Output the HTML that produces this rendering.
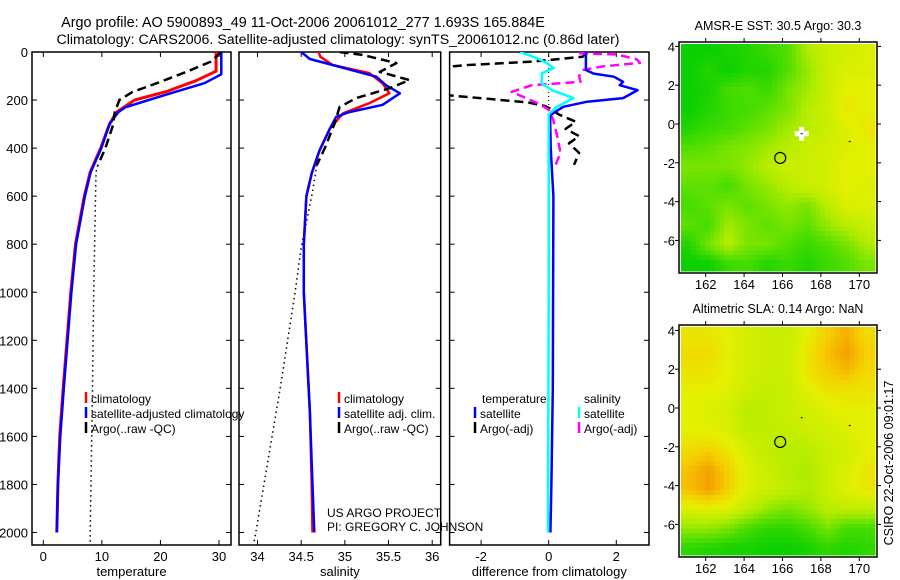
<!DOCTYPE html>
<html><head><meta charset="utf-8"><style>
body{margin:0;background:#fff;}
svg{display:block;font-family:"Liberation Sans",Arial,sans-serif;}
text{fill:#000;}
</style></head><body>
<svg id="fig" width="900" height="580" viewBox="0 0 900 580" xmlns="http://www.w3.org/2000/svg">
<rect width="900" height="580" fill="#fff"/>
<text x="303" y="27" font-size="14.4" text-anchor="middle">Argo profile: AO 5900893_49 11-Oct-2006 20061012_277 1.693S 165.884E</text>
<text x="338" y="44" font-size="14.2" text-anchor="middle">Climatology: CARS2006. Satellite-adjusted climatology: synTS_20061012.nc (0.86d later)</text>
<g id="maps"></g>
<g id="panels"></g>
</svg>
<script>
// ---------- data ----------
const depthTicks=[0,200,400,600,800,1000,1200,1400,1600,1800,2000];
const tempTicks=[0,10,20,30];
const salTicks=[34,34.5,35,35.5,36];
const salTickLabels=["34","34.5","35","35.5","36"];
const diffTicks=[-2,0,2];

const tClimDepth=[0,80,120,165,200,250,300,400,500,600,800,1000,1400,1600,1800,2000];
const tClimVal=[29.5,29.5,26.0,21.0,15.6,12.5,11.3,9.8,8.0,7.0,5.5,4.7,3.4,2.8,2.5,2.3];
const tSatDepth=[0,93,130,170,200,230,250,300,400,500,600,800,1000,1400,1600,1800,2000];
const tSatVal=[30.4,30.4,27.5,22.0,18.0,14.0,12.8,11.3,9.9,8.1,7.1,5.6,4.8,3.5,2.9,2.5,2.3];
const tArgoDepth=[0,40,82,124,167,200,250,312,400,472];
const tArgoVal=[30.4,28.6,24.5,20.0,15.2,13.0,12.2,11.8,10.6,9.3];
const tArgoExtDepth=[472,500,1000,1400,2000,2058];
const tArgoExtVal=[9.3,9.0,8.6,8.4,8.0,8.0];

const sClimDepth=[0,20,54,88,130,172,213,255,318,410,505,600,800,1000,1500,1800,2000];
const sClimVal=[34.70,34.72,34.86,35.28,35.43,35.51,35.28,34.98,34.83,34.71,34.62,34.56,34.53,34.53,34.60,34.62,34.63];
const sSatDepth=[0,29,54,103,138,172,220,250,270,318,410,505,600,800,1000,1500,1800,2000];
const sSatVal=[34.50,34.60,34.86,35.36,35.47,35.63,35.43,35.05,34.90,34.83,34.71,34.62,34.56,34.53,34.53,34.60,34.63,34.65];
const sArgoDepth=[0,12,46,83,117,151,192,229,300,400,470];
const sArgoVal=[34.94,35.20,35.59,35.40,35.74,35.51,35.13,34.94,34.88,34.77,34.68];
const sArgoExtDepth=[470,600,813,1000,1400,2000,2040];
const sArgoExtVal=[34.68,34.62,34.50,34.43,34.26,33.98,33.96];

const dTSatDepth=[0,75,90,103,124,138,159,192,207,228,263,400,600,1000,1400,1800,2000];
const dTSatVal=[1.1,1.1,1.33,1.93,2.2,2.1,2.63,2.2,1.14,0.43,0.04,0.06,0.14,0.13,0.12,0.08,0.05];
const dTArgoDepth=[5,20,40,55,70,170,180,195,210,225,240,260,290,320,350,380,420,470];
const dTArgoVal=[1.1,1.0,-0.5,-2.5,-3.5,-3.5,-3.0,-1.8,-0.6,-0.1,0.1,0.3,0.8,0.5,0.9,0.6,0.9,0.75];
const dSSatDepth=[0,26,46,67,88,130,159,192,228,260,400,1000,2000];
const dSSatVal=[-0.85,-0.35,-0.05,0.15,-0.2,-0.21,0.1,0.73,0.24,0.0,0.0,0.0,-0.02];
const dSArgoDepth=[5,10,30,45,60,75,100,124,138,166,190,215,240,280,350,420,470];
const dSArgoVal=[0.9,2.0,2.6,2.7,1.6,1.0,0.9,0.94,-0.5,-1.1,-0.7,-0.3,0.0,0.13,0.25,0.35,0.2];

const lonTicks=[162,164,166,168,170];
const latTicks=[4,2,0,-2,-4,-6];
const sstGrid=[
[0.05,0.05,0.1,0.15,0.25,0.35,0.7,0.85,0.9,0.95],
[0.05,0.15,0.05,0.15,0.15,0.35,0.6,0.85,0.95,0.95],
[0.05,0.1,0.3,0.35,0.25,0.5,0.65,0.85,1.0,1.0],
[0.05,0.15,0.25,0.3,0.4,0.5,0.75,0.85,1.05,1.0],
[0.15,0.25,0.3,0.4,0.5,0.65,0.75,0.85,0.95,1.05],
[0.35,0.4,0.5,0.55,0.65,0.75,0.85,0.9,0.95,1.0],
[0.5,0.5,0.5,0.6,0.75,0.85,0.85,0.9,1.0,1.0],
[0.4,0.4,0.3,0.5,0.6,0.75,0.85,0.9,1.0,0.95],
[0.3,0.4,0.5,0.4,0.5,0.6,0.5,0.75,0.95,0.95],
[0.4,0.3,0.65,0.5,0.4,0.5,0.4,0.6,0.75,0.85],
[0.15,0.5,0.75,0.5,0.5,0.35,0.25,0.35,0.5,0.7],
[0.05,0.05,0.25,0.3,0.15,0.25,0.15,0.25,0.35,0.5]];
const slaGrid=[
[1.05,1.05,1.0,0.9,0.85,0.85,1.0,1.15,1.25,1.1],
[1.1,1.1,1.0,0.9,0.85,0.85,1.05,1.2,1.3,1.15],
[1.05,1.05,1.0,0.9,0.85,0.85,1.05,1.15,1.2,1.1],
[1.0,1.0,0.95,0.85,0.8,0.85,0.95,1.05,1.05,1.05],
[1.0,0.95,0.9,0.75,0.8,0.85,0.9,0.95,1.0,1.0],
[1.0,1.0,0.95,0.8,0.8,0.8,0.85,0.9,0.95,1.0],
[1.1,1.15,1.05,0.9,0.8,0.75,0.75,0.85,0.9,1.0],
[1.2,1.3,1.15,0.95,0.85,0.75,0.7,0.85,0.95,1.05],
[1.2,1.3,1.15,0.95,0.85,0.8,0.7,0.85,0.95,1.05],
[0.95,1.0,0.95,0.8,0.6,0.5,0.6,0.75,0.8,0.8],
[0.6,0.6,0.5,0.3,0.2,0.2,0.3,0.5,0.3,0.3],
[0.2,0.15,0.1,0.1,0.05,0.05,0.1,0.2,0.15,0.2]];

// ---------- helpers ----------
const NS="http://www.w3.org/2000/svg";
function mk(tag,attrs,parent){const e=document.createElementNS(NS,tag);for(const k in attrs)e.setAttribute(k,attrs[k]);parent.appendChild(e);return e;}
const panels=document.getElementById('panels');
const maps=document.getElementById('maps');
const Y0=52,YB=545,yScale=(532.5-52)/2000;
const yD=d=>Y0+d*yScale;

function linear(v0,p0,v1,p1){return v=>p0+(v-v0)*(p1-p0)/(v1-v0);}
const xT=linear(0,43.3,30,219);
const xS=linear(34,257.5,36,432.2);
const xDf=linear(0,548.7,2,616.3);

function frame(x0,x1,name,ticks,fx,labels,xlabel,showY){
  const g=mk('g',{},panels);
  
  
  const r=mk('rect',{x:x0,y:Y0,width:x1-x0,height:YB-Y0,fill:'none',stroke:'#000','stroke-width':1.5},g);
  
  
  depthTicks.forEach(d=>{
    mk('line',{x1:x0,x2:x0+5,y1:yD(d),y2:yD(d),stroke:'#000'},g);
    mk('line',{x1:x1,x2:x1-5,y1:yD(d),y2:yD(d),stroke:'#000'},g);
    if(showY){const t=mk('text',{x:28,y:yD(d)+5,'font-size':13,'text-anchor':'end'},g);t.textContent=d;
      
      }
  });
  ticks.forEach((v,i)=>{
    const x=fx(v);
    mk('line',{x1:x,x2:x,y1:YB,y2:YB-5,stroke:'#000'},g);
    mk('line',{x1:x,x2:x,y1:Y0,y2:Y0+5,stroke:'#000'},g);
    const t=mk('text',{x:x,y:561,'font-size':13,'text-anchor':'middle'},g);t.textContent=labels[i];
    
    
  });
  const xl=mk('text',{x:(x0+x1)/2,y:576,'font-size':13,'text-anchor':'middle'},g);xl.textContent=xlabel;
  
  
  return g;
}
function series(g,fx,depths,vals,color,w,dash,name,clip){
  const pts=depths.map((d,i)=>fx(vals[i]).toFixed(1)+','+yD(d).toFixed(1)).join(' ');
  const p=mk('polyline',{points:pts,fill:'none',stroke:color,'stroke-width':w,'stroke-linejoin':'round','clip-path':'url(#'+clip+')'},g);
  if(dash)p.setAttribute('stroke-dasharray',dash);
  
  
}
function legend(g,x,y,color,label,name){
  mk('line',{x1:x,x2:x,y1:y-11,y2:y,stroke:color,'stroke-width':2.5},g);
  const t=mk('text',{x:x+5,y:y,'font-size':12},g);t.textContent=label;
  
  
}
const defs=mk('defs',{},document.getElementById('fig'));
[['c1',32,231],['c2',239,440.7],['c3',449.6,649]].forEach(c=>{
  const cp=mk('clipPath',{id:c[0]},defs);mk('rect',{x:c[1],y:Y0,width:c[2]-c[1],height:YB-Y0},cp);
});

// panel 1 temperature
const g1=frame(32,231,'temperature-panel',tempTicks,xT,tempTicks.map(String),'temperature',true);
series(g1,xT,tArgoExtDepth,tArgoExtVal,'#000',1.5,'1.5,3.5','temp-argo-extension','c1');
series(g1,xT,tClimDepth,tClimVal,'#ff0000',3,null,'temp-climatology-line','c1');
series(g1,xT,tSatDepth,tSatVal,'#0000ff',2.5,null,'temp-satellite-line','c1');
series(g1,xT,tArgoDepth,tArgoVal,'#000',2.5,'9,5','temp-argo-line','c1');
legend(g1,86,403,'#ff0000','climatology','legend-climatology');
legend(g1,86,418,'#0000ff','satellite-adjusted climatology','legend-satellite-adjusted');
legend(g1,86,433,'#000','Argo(..raw -QC)','legend-argo');

// panel 2 salinity
const g2=frame(239,440.7,'salinity-panel',salTicks,xS,salTickLabels,'salinity',false);
series(g2,xS,sArgoExtDepth,sArgoExtVal,'#000',1.5,'1.5,3.5','sal-argo-extension','c2');
series(g2,xS,sClimDepth,sClimVal,'#ff0000',2.5,null,'sal-climatology-line','c2');
series(g2,xS,sSatDepth,sSatVal,'#0000ff',2.5,null,'sal-satellite-line','c2');
series(g2,xS,sArgoDepth,sArgoVal,'#000',2.5,'9,5','sal-argo-line','c2');
legend(g2,339,403,'#ff0000','climatology','legend-sal-climatology');
legend(g2,339,418,'#0000ff','satellite adj. clim.','legend-sal-satellite');
legend(g2,339,433,'#000','Argo(..raw -QC)','legend-sal-argo');

// panel 3 difference
const g3=frame(449.6,649,'difference-panel',diffTicks,xDf,diffTicks.map(String),'difference from climatology',false);
mk('line',{x1:xDf(0),x2:xDf(0),y1:Y0,y2:yD(235),stroke:'#000','stroke-dasharray':'1,3'},g3);
series(g3,xDf,dTArgoDepth,dTArgoVal,'#000',2.5,'9,5','diff-temp-argo-line','c3');
series(g3,xDf,dSArgoDepth,dSArgoVal,'#ff00ff',2.5,'9,5','diff-sal-argo-line','c3');
series(g3,xDf,dTSatDepth,dTSatVal,'#0000ff',2.5,null,'diff-temp-satellite-line','c3');
series(g3,xDf,dSSatDepth,dSSatVal,'#00ffff',2.5,null,'diff-sal-satellite-line','c3');
{const t=mk('text',{x:482,y:403,'font-size':12},g3);t.textContent='temperature';
 
 
 const s=mk('text',{x:584,y:403,'font-size':12},g3);s.textContent='salinity';
 
 }
legend(g3,475,418,'#0000ff','satellite','legend-temp-satellite');
legend(g3,475,433,'#000','Argo(-adj)','legend-temp-argo');
legend(g3,579,418,'#00ffff','satellite','legend-sal-satellite-diff');
legend(g3,579,433,'#ff00ff','Argo(-adj)','legend-sal-argo-diff');
{const a=mk('text',{x:327,y:517,'font-size':12},panels);a.textContent='US ARGO PROJECT';
 
 
 const b=mk('text',{x:327,y:531,'font-size':12},panels);b.textContent='PI: GREGORY C. JOHNSON';
 
 }

// ---------- maps ----------
const cmapStops=[[0,[0,205,0]],[0.35,[80,222,0]],[0.7,[175,236,0]],[1.0,[228,240,0]],[1.15,[245,208,0]],[1.3,[245,160,0]]];
function cmap(v){
  if(v<=cmapStops[0][0])return 'rgb('+cmapStops[0][1]+')';
  for(let i=1;i<cmapStops.length;i++){if(v<=cmapStops[i][0]){const a=cmapStops[i-1],b=cmapStops[i];const f=(v-a[0])/(b[0]-a[0]);
    return 'rgb('+a[1].map((c,k)=>Math.round(c+(b[1][k]-c)*f)).join(',')+')';}}
  return 'rgb('+cmapStops[cmapStops.length-1][1]+')';
}
function sample(grid,lon,lat){
  const gx=(lon-160.6)/(10.3)*grid[0].length-0.5, gy=(4.25-lat)/(11.95)*grid.length-0.5;
  const cx=Math.max(0,Math.min(grid[0].length-1,gx)), cy=Math.max(0,Math.min(grid.length-1,gy));
  const x0=Math.floor(cx),y0=Math.floor(cy),x1=Math.min(x0+1,grid[0].length-1),y1=Math.min(y0+1,grid.length-1);
  const fx=cx-x0,fy=cy-y0;
  return grid[y0][x0]*(1-fx)*(1-fy)+grid[y0][x1]*fx*(1-fy)+grid[y1][x0]*(1-fx)*fy+grid[y1][x1]*fx*fy;
}
function drawMap(name,title,top,bottom,lat0y,grid,cell,cross){
  const L=679,R=877,px=19.2,py=19.4;
  const xLon=lon=>705.7+(lon-162)*px;
  const yLat=lat=>lat0y-lat*py;
  const g=mk('g',{},maps);
  
  
  const hm=mk('g',{'shape-rendering':'crispEdges'},g);
  
  
  for(let y=top+2;y<bottom-2;y+=cell){for(let x=L+2;x<R-2;x+=cell){
    const lon=162+(x+cell/2-705.7)/px, lat=(lat0y-(y+cell/2))/py;
    const w=Math.min(cell,R-2-x),h=Math.min(cell,bottom-2-y);
    mk('rect',{x:x,y:y,width:w+0.3,height:h+0.3,fill:cmap(sample(grid,lon,lat))},hm);
  }}
  const fr=mk('rect',{x:L,y:top,width:R-L,height:bottom-top,fill:'none',stroke:'#000','stroke-width':1.5},g);
  
  
  lonTicks.forEach(v=>{const x=xLon(v);mk('line',{x1:x,x2:x,y1:top,y2:top-4,stroke:'#000'},g);mk('line',{x1:x,x2:x,y1:bottom,y2:bottom+4,stroke:'#000'},g);
    const t=mk('text',{x:x,y:bottom+16,'font-size':13,'text-anchor':'middle'},g);t.textContent=v;
    
    });
  latTicks.forEach(v=>{const y=yLat(v);mk('line',{x1:L,x2:L-4,y1:y,y2:y,stroke:'#000'},g);mk('line',{x1:R,x2:R+4,y1:y,y2:y,stroke:'#000'},g);
    const t=mk('text',{x:675,y:y+5,'font-size':13,'text-anchor':'end'},g);t.textContent=v;
    
    });
  const tt=mk('text',{x:778,y:top-12,'font-size':12.5,'text-anchor':'middle'},g);tt.textContent=title;
  
  
  if(cross){const c=mk('path',{d:`M${xLon(167)-7},${yLat(-0.5)}h14M${xLon(167)},${yLat(-0.5)-7}v14`,stroke:'#fff','stroke-width':5},g);
    
    }
  mk('rect',{x:xLon(167)-1,y:yLat(-0.5)-0.5,width:2,height:1,fill:'#000'},g);
  mk('rect',{x:xLon(169.5)-1,y:yLat(-0.9)-0.5,width:2,height:1,fill:'#000'},g);
  const ci=mk('circle',{cx:xLon(165.88),cy:yLat(-1.75),r:5.5,fill:'none',stroke:'#000','stroke-width':1.2},g);
  
  
}
drawMap('sst-map','AMSR-E SST: 30.5 Argo: 30.3',42,273,124,sstGrid,4.8,true);
drawMap('sla-map','Altimetric SLA: 0.14 Argo: NaN',325,557,408,slaGrid,4.8,false);
{const t=mk('text',{transform:'translate(893,463) rotate(-90)','font-size':12.5,'text-anchor':'middle'},maps);t.textContent='CSIRO 22-Oct-2006 09:01:17';
 
 }
</script>
</body></html>
